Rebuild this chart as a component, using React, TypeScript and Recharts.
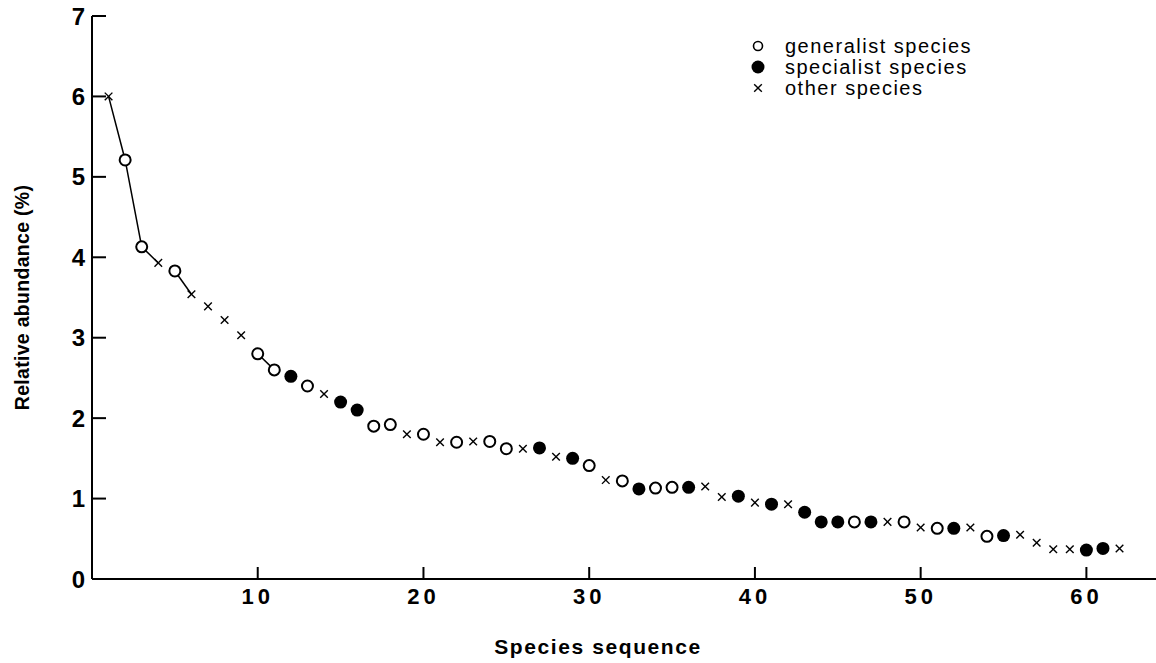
import React from 'react';
import { ScatterChart, Scatter, XAxis, YAxis, Legend, Label } from 'recharts';

// ---- data ----
const speciesRank = [
  1, 2, 3, 4, 5, 6, 7, 8, 9, 10, 11, 12, 13, 14, 15, 16, 17, 18, 19, 20, 21,
  22, 23, 24, 25, 26, 27, 28, 29, 30, 31, 32, 33, 34, 35, 36, 37, 38, 39, 40,
  41, 42, 43, 44, 45, 46, 47, 48, 49, 50, 51, 52, 53, 54, 55, 56, 57, 58, 59,
  60, 61, 62,
];
const relativeAbundance = [
  6.0, 5.21, 4.13, 3.93, 3.83, 3.54, 3.39, 3.22, 3.03, 2.8, 2.6, 2.52, 2.4,
  2.3, 2.2, 2.1, 1.9, 1.92, 1.8, 1.8, 1.7, 1.7, 1.71, 1.71, 1.62, 1.62, 1.63,
  1.52, 1.5, 1.41, 1.23, 1.22, 1.12, 1.13, 1.14, 1.14, 1.15, 1.02, 1.03, 0.95,
  0.93, 0.93, 0.83, 0.71, 0.71, 0.71, 0.71, 0.71, 0.71, 0.64, 0.63, 0.63,
  0.64, 0.53, 0.54, 0.55, 0.45, 0.37, 0.37, 0.36, 0.38, 0.38,
];
// g = generalist, s = specialist, o = other
const speciesGroup = [
  'o', 'g', 'g', 'o', 'g', 'o', 'o', 'o', 'o', 'g', 'g', 's', 'g', 'o', 's',
  's', 'g', 'g', 'o', 'g', 'o', 'g', 'o', 'g', 'g', 'o', 's', 'o', 's', 'g',
  'o', 'g', 's', 'g', 'g', 's', 'o', 'o', 's', 'o', 's', 'o', 's', 's', 's',
  'g', 's', 'o', 'g', 'o', 'g', 's', 'o', 'g', 's', 'o', 'o', 'o', 'o', 's',
  's', 'o',
];
// ranks joined by the drawn connecting line (separate segments)
const lineSegments = [
  [1, 2, 3, 4],
  [5, 6],
  [10, 11],
];
const xTicks = [10, 20, 30, 40, 50, 60];
const yTicks = [0, 1, 2, 3, 4, 5, 6, 7];

const points = speciesRank.map((r, i) => ({ x: r, y: relativeAbundance[i], g: speciesGroup[i] }));
const generalistData = points.filter((p) => p.g === 'g');
const specialistData = points.filter((p) => p.g === 's');
const otherData = points.filter((p) => p.g === 'o');
const segmentData = lineSegments.map((seg) => seg.map((r) => points[speciesRank.indexOf(r)]));

const FONT = '"Liberation Sans", Arial, Helvetica, sans-serif';

const OpenCircle = (props: any) => {
  const { cx, cy } = props;
  if (cx == null || cy == null) return <g />;
  return <circle cx={cx} cy={cy} r={5.5} fill="#fff" stroke="#000" strokeWidth={2} />;
};
const FilledCircle = (props: any) => {
  const { cx, cy } = props;
  if (cx == null || cy == null) return <g />;
  return <circle cx={cx} cy={cy} r={6.5} fill="#000" stroke="none" />;
};
const Cross = (props: any) => {
  const { cx, cy } = props;
  if (cx == null || cy == null) return <g />;
  const d = 3.8;
  return (
    <g stroke="#000" strokeWidth={1.4}>
      <line x1={cx - d} y1={cy - d} x2={cx + d} y2={cy + d} />
      <line x1={cx - d} y1={cy + d} x2={cx + d} y2={cy - d} />
    </g>
  );
};
const NoShape = () => <g />;

const XTick = (props: any) => {
  const { x, y, payload } = props;
  return (
    <g>
      <line x1={x} y1={y} x2={x} y2={y - 12} stroke="#000" strokeWidth={2} />
      <text x={x} y={y + 25} textAnchor="middle" fontFamily={FONT} fontWeight="bold" fontSize={22} letterSpacing={4} fill="#000">
        {payload.value}
      </text>
    </g>
  );
};
const YTick = (props: any) => {
  const { x, y, payload } = props;
  return (
    <g>
      <line x1={x} y1={y} x2={x + 14} y2={y} stroke="#000" strokeWidth={2} />
      <text x={x - 7} y={y + 8.5} textAnchor="end" fontFamily={FONT} fontWeight="bold" fontSize={24} fill="#000">
        {payload.value}
      </text>
    </g>
  );
};

const legendItems = [
  { name: 'generalist species', Icon: (p: any) => <circle cx={p.cx} cy={p.cy} r={4.5} fill="#fff" stroke="#000" strokeWidth={1.6} /> },
  { name: 'specialist species', Icon: (p: any) => <circle cx={p.cx} cy={p.cy} r={6.5} fill="#000" /> },
  { name: 'other species', Icon: (p: any) => <Cross cx={p.cx} cy={p.cy} /> },
];

const renderLegend = () => (
  <svg width={280} height={74} style={{ display: 'block' }}>
    {legendItems.map((it, i) => (
      <g key={it.name}>
        <it.Icon cx={10} cy={12 + i * 21} />
        <text x={37} y={18.5 + i * 21} fontFamily={FONT} fontSize={20} fontWeight={500} letterSpacing={1.5} fill="#000">
          {it.name}
        </text>
      </g>
    ))}
  </svg>
);

export default function App() {
  return (
    <div style={{ position: 'absolute', left: 0, top: 0, width: 1156, height: 663, background: '#fff' }}>
      <ScatterChart width={1156} height={663} margin={{ top: 16, right: 0, bottom: 0, left: 0 }}>
        <XAxis
          type="number"
          dataKey="x"
          domain={[0, 64.2]}
          ticks={xTicks}
          allowDataOverflow
          height={84}
          tickSize={0}
          tickMargin={0}
          tickLine={false}
          axisLine={{ stroke: '#000', strokeWidth: 2 }}
          tick={<XTick />}
        >
          <Label
            value="Species  sequence"
            position="insideBottom"
            offset={9}
            dx={-26}
            style={{ fontFamily: FONT, fontWeight: 'bold', fontSize: 21, letterSpacing: 1.6, whiteSpace: 'pre', fill: '#000' }}
          />
        </XAxis>
        <YAxis
          type="number"
          dataKey="y"
          domain={[0, 7]}
          ticks={yTicks}
          width={92}
          tickSize={0}
          tickMargin={0}
          tickLine={false}
          axisLine={{ stroke: '#000', strokeWidth: 2 }}
          tick={<YTick />}
        >
          <Label
            value="Relative abundance (%)"
            angle={-90}
            position="insideLeft"
            offset={22}
            style={{ fontFamily: FONT, fontWeight: 'bold', fontSize: 19.5, letterSpacing: 0.3, textAnchor: 'middle', fill: '#000' }}
          />
        </YAxis>
        {segmentData.map((seg, i) => (
          <Scatter
            key={'seg' + i}
            data={seg}
            line={{ stroke: '#000', strokeWidth: 1.5 }}
            shape={<NoShape />}
            isAnimationActive={false}
            legendType="none"
          />
        ))}
        <Scatter name="generalist species" data={generalistData} shape={<OpenCircle />} isAnimationActive={false} />
        <Scatter name="specialist species" data={specialistData} shape={<FilledCircle />} isAnimationActive={false} />
        <Scatter name="other species" data={otherData} shape={<Cross />} isAnimationActive={false} />
        <Legend
          layout="horizontal"
          verticalAlign="middle"
          align="center"
          content={renderLegend}
          wrapperStyle={{ position: 'absolute', left: 748, top: 34, width: 280, height: 74 }}
        />
      </ScatterChart>
    </div>
  );
}
